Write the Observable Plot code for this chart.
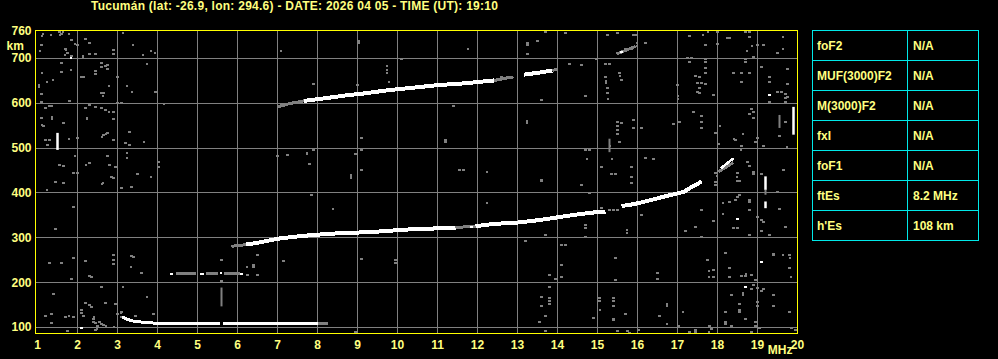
<!DOCTYPE html>
<html><head><meta charset="utf-8">
<script src="https://cdn.jsdelivr.net/npm/d3@7"></script>
<script src="https://cdn.jsdelivr.net/npm/@observablehq/plot@0.6"></script>
<style>
html,body{margin:0;padding:0;background:#000;}
#wrap{position:relative;width:998px;height:359px;overflow:hidden;background:#000;font-family:"Liberation Sans",Arial,sans-serif;font-weight:bold;}
#title{position:absolute;left:91px;top:0px;font-size:12px;line-height:12px;letter-spacing:0.26px;color:#ffff80;white-space:nowrap;}
#chart{position:absolute;left:0;top:0;}
#tbl{position:absolute;left:812px;top:30px;border-collapse:collapse;table-layout:fixed;width:166px;}
#tbl td{border:1px solid #00e8e8;color:#ffff80;font-size:12px;padding:0 0 0 4px;height:29px;vertical-align:middle;white-space:nowrap;}
#tbl td.v{padding-left:5px;}
</style></head>
<body>
<div id="wrap">
  <div id="chart"></div>
  <div id="title"></div>
  <table id="tbl"><colgroup><col style="width:95px"><col style="width:71px"></colgroup><tbody></tbody></table>
</div>
<script>
// ---- text data ----
const titleText = "Tucumán (lat: -26.9, lon: 294.6) - DATE: 2026 04 05 - TIME (UT): 19:10";
const paramNames = ["foF2", "MUF(3000)F2", "M(3000)F2", "fxI", "foF1", "ftEs", "h'Es"];
const paramValues = ["N/A", "N/A", "N/A", "N/A", "N/A", "8.2 MHz", "108 km"];

// ---- axes ----
const freqTicks = [1,2,3,4,5,6,7,8,9,10,11,12,13,14,15,16,17,18,19,20];
const heightTicks = [100,200,300,400,500,600,700,760];
const gridFreq = [2,3,4,5,6,7,8,9,10,11,12,13,14,15,16,17,18,19];
const gridHeight = [100,200,300,400,500,600,700];

// ---- echo traces [MHz, km] (null = gap) ----
const esTrace = [[3.12,124],[3.2,120],[3.35,115],[3.6,112],[3.9,110],[4.5,109],[5.0,109],[5.57,109],null,
  [5.63,109],[6.5,109],[7.4,109],[8.02,109]];
const esFringe = [[8.0,109],[8.27,110]];
const es2Gray = [[4.45,220],[4.95,220],null,[5.2,220],[5.5,220],null,[5.65,220],[6.05,220]];
const es2White = [[4.35,220],[5.1,220],[5.14,220],[5.58,221],[6.1,220]];
const fTrace = [[6.22,285],[6.5,289],[6.74,293],[7.0,298],[7.3,301],[7.58,304],[8.0,307],[8.41,309.5],[8.8,311],
  [9.24,312.6],[9.7,315],[10.07,317.8],[10.5,319.5],[10.9,320.8],[11.24,322],[11.45,323],null,
  [11.95,326],[12.4,331],[12.99,334],[13.4,338],[13.8,343],[14.1,347],[14.4,351],[14.66,354],[14.9,356.5],[15.2,358],null,
  [15.6,371],[15.9,375],[16.24,382],[16.58,390],[16.9,397],[17.16,402.5],[17.33,412],[17.5,420],[17.6,426]];
const fFringe = [[5.85,281],[6.22,285],null,[11.45,323],[11.95,326]];
const f2Trace = [[7.66,605.5],[8.16,611],[8.74,618],[9.16,622],[9.83,630],[10.41,635],[10.99,640.5],[11.66,644.5],[12.41,651],null,
  [13.16,664],[13.5,668],[13.87,673]];
const f2Fringe = [[6.99,592],[7.33,600],[7.66,605.5],null,[12.41,651],[12.9,659],null,[13.87,673],[14.0,677],null,[15.48,710],[15.95,727]];
const diagTrace = [[18.08,455],[18.41,478]];
const diagFringe = [[18.02,447],[18.4,468]];
// vertical echo bars [MHz, km from, km to]
const whiteBars = [[1.5,495,533],[19.9,529,591],[19.2,406,436],[19.2,365,380]];
const grayBars = [[19.2,395,406],[5.6,146,188],[15.3,490,520],[19.55,544,573]];
const whiteDots = [[1.83,701],[15.6,715],[18.5,341],[18.7,191],[19.3,618],[19.1,246],[2.1,100],[11.3,322],[11.4,323],[11.85,325]];

// ---- scattered noise [MHz, km] ----
const noise = [
[1.14,754],[1.34,753],[1.55,758],[1.64,758],[1.6,754],[1.78,754],[1.85,741],[1.1,730],[1.72,718],[1.75,712],[1.85,705],
[1.6,689],[1.83,674],[1.12,667],[1.6,670],[1.39,652],[1.24,648],[1.03,640],[1.03,636],[1.1,620],[1.8,605],[1.1,603],
[1.3,594],[1.36,594],[1.2,590],[1.1,568],[1.37,570],[1.37,566],[1.12,551],[1.15,549],[1.65,556],[1.2,518],[1.3,518],
[1.78,520],[2.0,522],[1.25,507],[1.93,482],[1.55,462],[1.65,460],[1.9,445],[1.45,424],[1.65,422],[1.24,406],[1.9,369],
[1.45,319],[1.3,243],[1.6,243],[1.9,254],[1.85,208],[1.4,174],[1.2,126],[1.35,130],[1.35,110],[1.7,124],[1.78,125],
[1.9,124],[1.75,92],[2.1,133],[2.15,126],[2.42,123],[2.45,110],[2.5,103],[2.6,108],[2.65,106],[2.72,104],[2.45,95],
[2.48,97],[3.0,130],[3.1,124],[3.08,133],[3.45,125],[3.9,130],[2.2,249],[2.9,241],[2.9,250],[2.9,262],[3.35,260],
[3.4,258],[3.34,235],[3.6,222],[2.3,215],[2.35,213],[2.6,190],[3.14,190],[3.74,168],[2.7,155],[2.95,153],[2.2,155],
[2.3,150],[2.35,145],[2.1,140],[3.1,135],[2.4,118],[2.4,112],[2.55,112],[2.92,102],
[1.12,750],[1.56,752],[1.93,732],[2.0,730],[2.2,744],[2.3,734],[1.07,717],[1.7,721],[1.68,708],[2.13,706],[2.13,702],
[2.3,710],[2.45,709],[2.9,719],[2.9,711],[3.14,756],[3.39,730],[3.63,708],[3.84,716],[3.93,712],
[2.1,658],[2.15,658],[2.45,672],[2.45,665],[2.6,680],[2.7,683],[2.75,676],[3.0,658],[2.6,690],[2.75,685],[3.24,638],
[3.74,687],[3.95,626],[2.6,622],[2.63,616],[2.65,622],[2.78,638],[3.37,626],[2.3,596],[2.2,590],[2.45,592],[2.6,590],
[2.7,585],[2.78,580],[2.9,580],[3.0,601],[3.1,601],[4.16,598],[2.24,568],[2.24,565],[2.9,566],[2.75,534],[2.72,532],
[2.65,530],[2.62,526],[3.3,536],[2.9,518],[3.2,512],[3.3,508],[3.66,514],[4.03,469],[4.03,458],[3.24,490],[3.24,478],
[2.75,482],[2.3,468],[2.22,462],[2.8,462],[2.95,458],[2.0,445],[3.5,443],[2.9,434],[2.85,436],[3.84,435],[2.62,420],
[2.63,422],[3.1,412],[3.35,413],
[7.0,482],[7.25,484],[7.74,489],[7.74,486],[7.9,497],[7.8,464],[8.95,488],[9.1,523],[9.1,495],[9.1,451],[8.84,436],
[11.2,518],[11.2,514],[11.55,451],[11.65,451],[12.24,447],[13.24,560],[13.24,556],[11.4,594],[7.9,643],[9.0,640],
[9.74,683],[9.74,675],[9.74,667],[9.78,648],[14.3,688],[14.6,685],[14.7,617],[13.6,608],[15.2,687],[15.3,687],
[15.2,658],[15.22,650],[15.22,645],[15.25,634],[15.25,622],[15.26,610],[15.55,668],[15.57,661],[15.6,653],
[7.09,717],[9.04,738],[9.04,734],[10.1,699],[11.76,721],[13.25,734],[13.25,730],[13.5,740],[13.25,710],[13.7,760],
[14.2,756],[14.96,699],[15.25,752],[15.5,756],[15.9,752],[15.95,752],[15.98,734],[15.98,727],[15.85,721],[15.7,721],
[16.2,734],[8.84,440],[8.84,433],[7.85,395],[8.39,364],[12.24,378],[9.1,252],[9.95,250],[9.95,244],[5.6,250],
[6.24,236],[6.4,239],[6.4,234],[6.5,261],[7.15,249],[6.5,218],[6.25,216],[6.5,216],[5.6,203],[8.95,90],
[15.4,363],[15.5,361],[12.6,658],[12.75,659],
[13.6,430],[13.6,427],[14.6,417],[14.7,497],[14.8,497],[14.74,475],[15.1,457],[15.32,505],[15.5,559],[15.6,557],
[15.5,549],[15.5,540],[15.5,531],[15.55,514],[15.9,545],[15.9,562],[16.1,545],[15.36,475],[15.35,443],[15.85,458],
[15.85,435],[15.85,423],[16.2,479],[16.4,475],[17.0,640],[17.02,617],[17.02,610],[16.9,555],[17.05,559],[17.3,692],
[17.7,692],[17.7,678],[17.7,667],[17.45,662],[17.55,658],[17.5,645],[17.6,645],[17.7,643],[17.55,634],[17.55,622],
[17.5,626],[17.9,618],[17.4,581],[17.6,571],[17.6,559],[17.6,544],[17.95,533],[18.4,667],[18.6,667],[18.8,667],
[18.6,648],[18.7,692],[19.1,680],[19.3,658],[19.3,648],[19.75,676],[19.75,643],[19.5,626],[19.6,626],[19.7,620],
[19.7,612],[19.75,614],[19.7,604],[19.3,603],[18.85,588],[18.9,581],[18.8,576],[18.9,568],[19.7,559],[19.55,527],
[19.74,503],[18.45,519],[18.42,520],[18.64,531],[18.06,549],[18.04,510],[18.95,514],[19.0,522],[19.15,504],[18.6,504],
[18.58,496],[18.75,470],[18.8,460],[18.9,447],[18.9,442],[19.1,443],[19.65,451],[18.5,427],[18.55,427],[17.95,425],
[17.95,418],[17.3,750],[17.64,752],[17.76,760],[18.0,760],[18.25,745],[18.3,745],[18.7,760],[18.8,760],[18.8,749],
[17.7,730],[18.0,732],[18.86,727],[19.0,730],[19.15,730],[19.64,749],[19.64,721],[19.5,712],[18.74,717],[17.25,702],
[17.35,702],[17.7,699],[17.72,693],[18.7,699],[18.7,693],[18.9,704],
[15.45,442],[15.84,423],[15.84,435],[14.8,399],[15.1,366],[15.12,356],[15.3,362],[14.7,328],[14.7,321],[15.74,318],
[15.74,311],[16.1,352],[17.6,363],[17.9,338],[17.2,315],[17.45,324],[17.6,302],[13.7,306],[13.2,293],[14.7,302],
[18.14,377],[18.14,354],[18.3,380],[18.45,385],[18.5,392],[18.55,395],[18.8,385],[18.8,380],[18.8,363],[18.4,323],
[18.5,323],[18.8,306],[19.0,347],[19.1,340],[19.15,335],[19.1,315],[19.3,306],[19.7,324],[19.5,402],[19.55,365],
[18.5,444],[18.48,435],[18.9,445],[17.95,444],[17.98,438],[19.8,261],[19.82,254],[18.2,266],[17.75,250],[17.9,229],
[17.78,226],[17.9,212],[17.78,212],[18.3,233],[18.3,212],[18.6,214],[18.7,214],[18.72,220],[18.85,216],[18.95,207],
[19.4,265],[19.4,261],[19.64,261],[19.8,232],[19.84,213],[15.45,256],[16.5,222],[16.5,209],[14.1,284],[14.2,284],
[14.1,239],[14.1,213],[13.8,217],[13.95,209],[15.45,205],[13.8,191],
[13.6,168],[13.6,148],[13.8,165],[13.8,158],[13.8,152],[13.7,125],[13.55,113],[13.7,92],[15.05,165],[15.05,160],
[15.07,138],[15.4,165],[15.4,160],[15.4,148],[15.7,130],[14.9,121],[15.4,120],[15.4,116],[15.5,92],[15.75,92],
[15.8,88],[16.03,94],[16.74,153],[16.74,148],[16.55,125],[16.74,107],[17.14,134],[17.03,103],[17.45,94],[17.45,90],
[17.3,90],[17.8,103],[17.85,96],[17.78,90],[18.2,135],[18.2,113],[18.2,107],[18.35,172],[18.55,152],[18.55,140],
[18.55,135],[18.64,177],[18.64,172],[18.9,194],[18.85,185],[19.0,187],[19.1,182],[19.15,185],[19.0,157],[19.0,148],
[18.95,113],[18.95,103],[18.85,90],[19.05,100],[18.35,103],[18.7,118],[19.4,172],[19.4,148],[19.8,135],[19.85,100],
[19.95,94]
];

// ---- build ----
document.getElementById("title").textContent = titleText;
const tb = document.querySelector("#tbl tbody");
paramNames.forEach((n, i) => {
  const tr = document.createElement("tr");
  const a = document.createElement("td"); a.textContent = n;
  const b = document.createElement("td"); b.className = "v"; b.textContent = paramValues[i];
  tr.append(a, b); tb.append(tr);
});

const WHITE = "#ffffff", GRAY = "#808080", YEL = "#ffff80";
const px = d => d ? d[0] : NaN, py = d => d ? d[1] : NaN;
const sq = (data, fill) => Plot.dot(data, {x: d => d[0], y: d => d[1], symbol: "square", r: 1.13, fill, stroke: null, shapeRendering: "crispEdges"});
const ln = (data, stroke, w) => Plot.line(data, {x: px, y: py, stroke, strokeWidth: w, strokeLinecap: "butt", strokeLinejoin: "round", shapeRendering: "crispEdges"});

const chart = Plot.plot({
  width: 998, height: 359,
  marginLeft: 35, marginRight: 201, marginTop: 30, marginBottom: 26,
  style: {background: "#000", color: YEL, fontFamily: "Liberation Sans, Arial, sans-serif", fontSize: "12px", fontWeight: "bold", overflow: "visible"},
  x: {domain: [0.95, 20], range: [35, 797]},
  y: {domain: [86.62, 762.45], range: [333, 30]},
  marks: [
    Plot.ruleX(gridFreq, {x: d => d, stroke: GRAY, shapeRendering: "crispEdges"}),
    Plot.ruleY(gridHeight, {y: d => d, stroke: GRAY, shapeRendering: "crispEdges"}),
    sq(noise, GRAY),
    Plot.ruleX(grayBars, {x: d => d[0], y1: d => d[1], y2: d => d[2], stroke: GRAY, strokeWidth: 2}),
    ln(esFringe, GRAY, 3), ln(es2Gray, GRAY, 3), ln(fFringe, GRAY, 3), ln(f2Fringe, GRAY, 3), ln(diagFringe, GRAY, 3),
    ln(esTrace, WHITE, 3), ln(fTrace, WHITE, 4), ln(f2Trace, WHITE, 4), ln(diagTrace, WHITE, 2.5),
    sq(es2White, WHITE), sq(whiteDots, WHITE),
    Plot.ruleX(whiteBars, {x: d => d[0], y1: d => d[1], y2: d => d[2], stroke: WHITE, strokeWidth: 2.5}),
    Plot.frame({stroke: "#ffff00", shapeRendering: "crispEdges"}),
    Plot.axisX(freqTicks, {tickSize: 0, tickPadding: 7, fill: YEL, label: null, tickFormat: d => String(d)}),
    Plot.axisY(heightTicks, {tickSize: 0, tickPadding: 4, fill: YEL, label: null, tickFormat: d => String(d)}),
    Plot.text(["km"], {frameAnchor: "top-left", dx: -29, dy: 10.5, textAnchor: "start", fill: YEL}),
    Plot.text(["MHz"], {frameAnchor: "bottom-right", dx: -5, dy: 20, textAnchor: "end", fill: YEL})
  ]
});
document.getElementById("chart").append(chart);
</script>
</body></html>
